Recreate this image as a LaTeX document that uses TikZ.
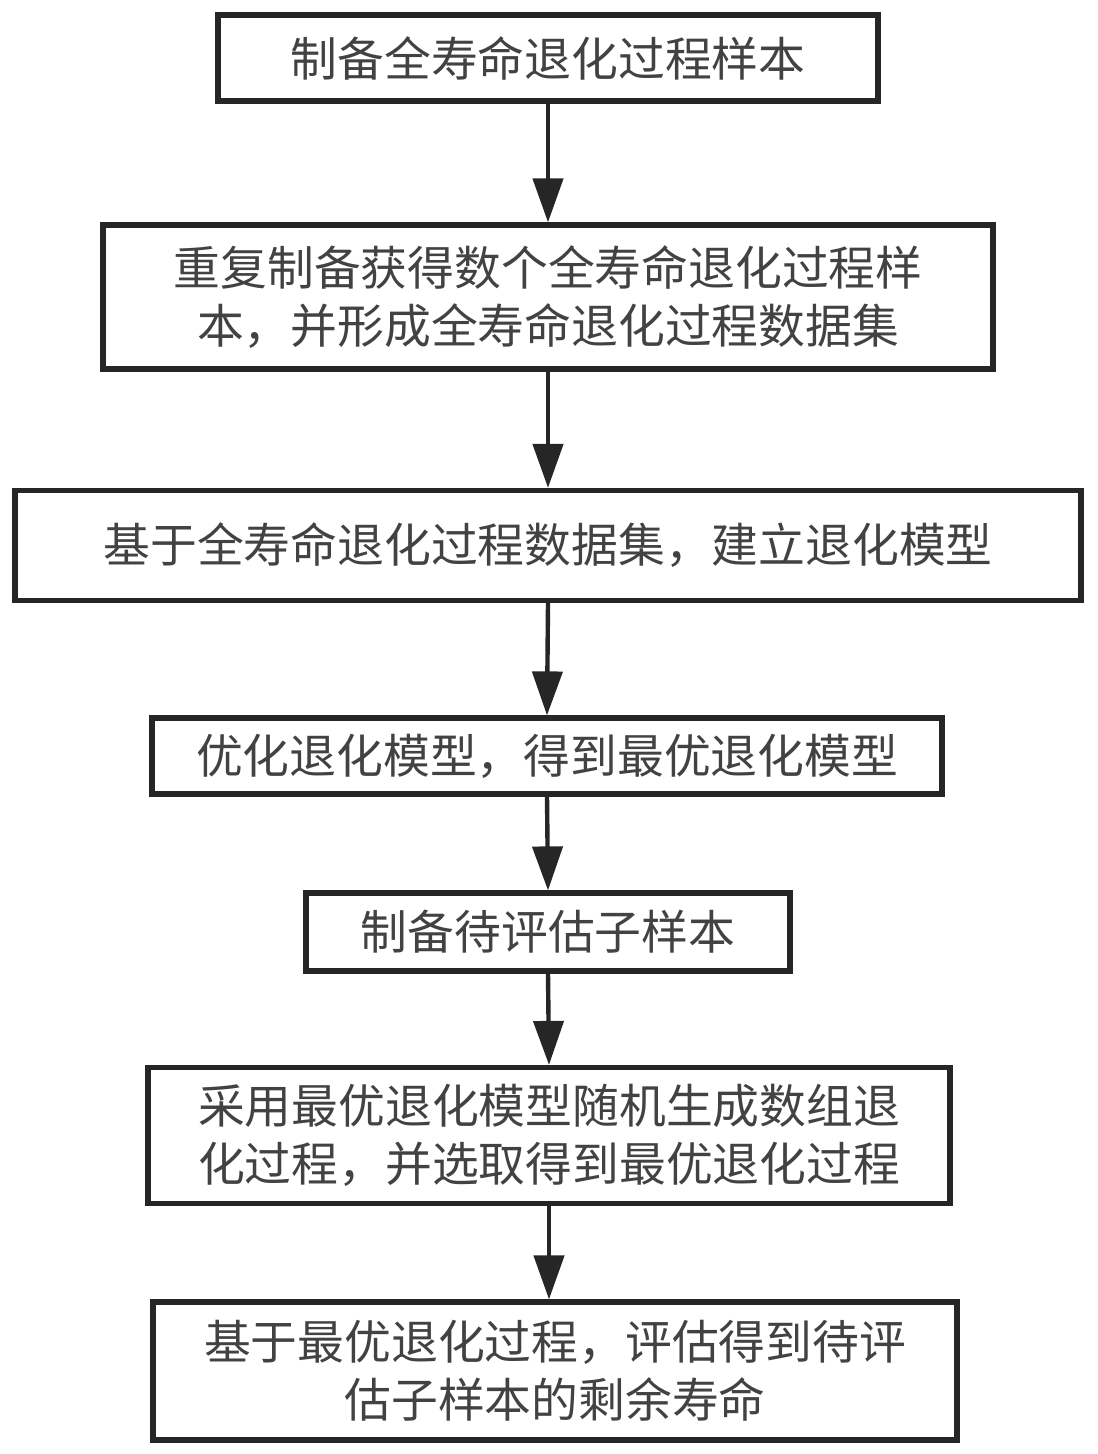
\documentclass[tikz,border=0pt]{standalone}
\usepackage{fontspec}
\newfontfamily\cjk{Noto Sans CJK SC}
\usepackage{tikz}
\usetikzlibrary{arrows.meta}
\definecolor{boxline}{RGB}{38, 38, 38}
\definecolor{boxtext}{RGB}{66, 66, 66}
\begin{document}
\begin{tikzpicture}[x=0.5pt, y=-0.5pt,
    stepbox/.style={draw=boxline, line width=2.6pt, inner sep=0pt, align=center,
                    text=boxtext, font=\cjk\fontsize{23.4}{29}\selectfont},
    flow/.style={draw=boxline, line width=2.2pt, -{Triangle[length=22pt, width=15pt]}}]
            \useasboundingbox (0, 0) rectangle (1097, 1454);
            \node[stepbox, minimum width=330pt, minimum height=43pt]  (prep)      at (548,   58)   {制备全寿命退化过程样本};
            \node[stepbox, minimum width=445pt, minimum height=72pt]  (repeatset) at (548,  297)   {重复制备获得数个全寿命退化过程样\\本，并形成全寿命退化过程数据集};
            \node[stepbox, minimum width=533pt, minimum height=55pt]  (model)     at (548,  545.5) {基于全寿命退化过程数据集，建立退化模型};
            \node[stepbox, minimum width=395pt, minimum height=38pt]  (optim)     at (547,  756)   {优化退化模型，得到最优退化模型};
            \node[stepbox, minimum width=242pt, minimum height=39pt]  (subsample) at (548,  932)   {制备待评估子样本};
            \node[stepbox, minimum width=401pt, minimum height=68pt]  (simul)     at (549, 1135.5) {采用最优退化模型随机生成数组退\\化过程，并选取得到最优退化过程};
            \node[stepbox, minimum width=402pt, minimum height=69pt]  (life)      at (555, 1371)   {基于最优退化过程，评估得到待评\\估子样本的剩余寿命};
            \draw[flow] (prep.south)      -- (repeatset.north);
            \draw[flow] (repeatset.south) -- (model.north);
            \draw[flow] (model.south)     -- (optim.north);
            \draw[flow] (optim.south)     -- (subsample.north);
            \draw[flow] (subsample.south) -- (simul.north);
            \draw[flow] (simul.south)     -- (simul.south |- life.north);
        \end{tikzpicture}
\end{document}
